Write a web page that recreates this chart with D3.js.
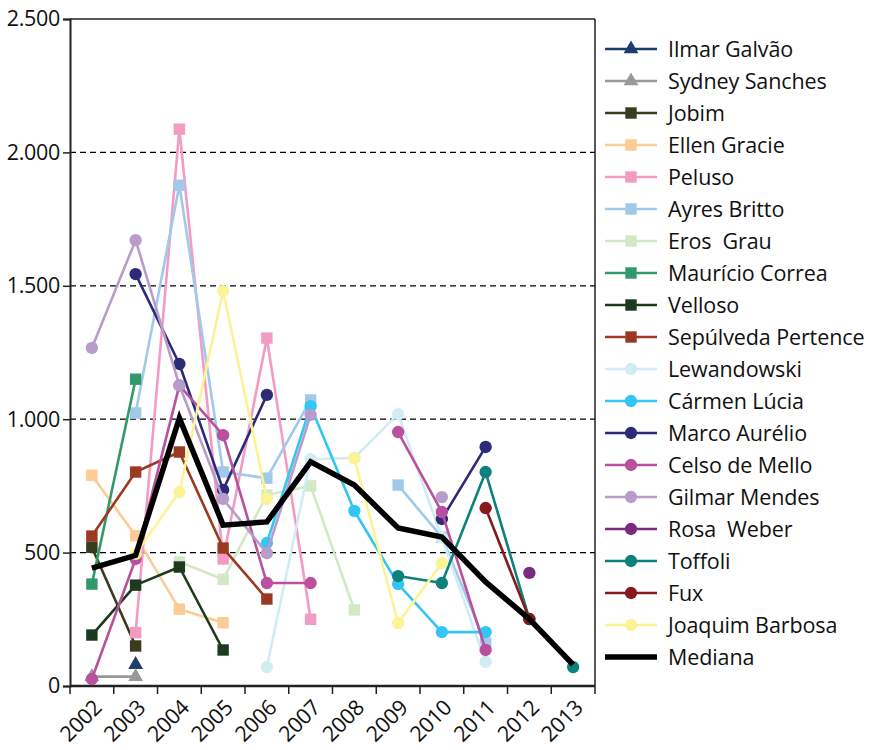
<!DOCTYPE html>
<html>
<head>
<meta charset="utf-8">
<script src="https://cdn.jsdelivr.net/npm/d3@7"></script>
<style>
  body { margin: 0; background: #fff; }
  text { font-family: "Open Sans", sans-serif; fill: #111; }
</style>
</head>
<body>
<div id="graph"></div>
<script>
'use strict';

const years = ['2002', '2003', '2004', '2005', '2006', '2007', '2008', '2009', '2010', '2011', '2012', '2013'];
const yTicks = [0, 500, 1000, 1500, 2000, 2500];

// one value per year, null = no point
const ilmarGalvao       = [null, 80, null, null, null, null, null, null, null, null, null, null];
const sydneySanches     = [35, 35, null, null, null, null, null, null, null, null, null, null];
const jobim             = [520, 150, null, null, null, null, null, null, null, null, null, null];
const ellenGracie       = [790, 563, 288, 237, null, null, null, null, null, null, null, null];
const peluso            = [null, 200, 2087, 476, 1304, 250, null, null, null, null, null, null];
const ayresBritto       = [null, 1023, 1877, 802, 779, 1072, null, 753, 558, 161, null, null];
const erosGrau          = [null, null, 465, 400, 716, 750, 285, null, null, null, null, null];
const mauricioCorrea    = [382, 1150, null, null, null, null, null, null, null, null, null, null];
const velloso           = [191, 378, 446, 135, null, null, null, null, null, null, null, null];
const sepulvedaPertence = [562, 802, 877, 517, 326, null, null, null, null, null, null, null];
const lewandowski       = [null, null, null, null, 71, 850, 855, 1019, 555, 90, null, null];
const carmenLucia       = [null, null, null, null, 536, 1049, 656, 382, 202, 202, null, null];
const marcoAurelio      = [null, 1544, 1207, 735, 1091, null, null, null, 626, 896, null, null];
const celsoDeMello      = [26, 476, 1127, 940, 386, 386, null, 952, 652, 135, null, null];
const gilmarMendes      = [1267, 1671, 1127, 701, 498, 1016, null, null, 708, null, null, null];
const rosaWeber         = [null, null, null, null, null, null, null, null, null, null, 424, null];
const toffoli           = [null, null, null, null, null, null, null, 412, 386, 802, 251, 71];
const fux               = [null, null, null, null, null, null, null, null, null, 667, 251, null];
const joaquimBarbosa    = [null, 495, 727, 1481, 701, null, 853, 236, 461, null, null, null];
const mediana           = [442, 490, 1004, 603, 615, 840, 753, 592, 558, 390, 251, 80];

const series = [
  { name: 'Ilmar Galvão', values: ilmarGalvao, color: '#1f3c6e', marker: 'triangle' },
  { name: 'Sydney Sanches', values: sydneySanches, color: '#999999', marker: 'triangle' },
  { name: 'Jobim', values: jobim, color: '#3a3a1c', marker: 'square' },
  { name: 'Ellen Gracie', values: ellenGracie, color: '#fdcb94', marker: 'square' },
  { name: 'Peluso', values: peluso, color: '#f39bc3', marker: 'square' },
  { name: 'Ayres Britto', values: ayresBritto, color: '#a1c9ea', marker: 'square' },
  { name: 'Eros  Grau', values: erosGrau, color: '#d3e9c6', marker: 'square' },
  { name: 'Maurício Correa', values: mauricioCorrea, color: '#33996a', marker: 'square' },
  { name: 'Velloso', values: velloso, color: '#1c3a1e', marker: 'square' },
  { name: 'Sepúlveda Pertence', values: sepulvedaPertence, color: '#9b3a22', marker: 'square' },
  { name: 'Lewandowski', values: lewandowski, color: '#d2ecf4', marker: 'circle' },
  { name: 'Cármen Lúcia', values: carmenLucia, color: '#34c6f2', marker: 'circle' },
  { name: 'Marco Aurélio', values: marcoAurelio, color: '#2b2b78', marker: 'circle' },
  { name: 'Celso de Mello', values: celsoDeMello, color: '#b9519e', marker: 'circle' },
  { name: 'Gilmar Mendes', values: gilmarMendes, color: '#b89dcb', marker: 'circle' },
  { name: 'Rosa  Weber', values: rosaWeber, color: '#7b2a80', marker: 'circle' },
  { name: 'Toffoli', values: toffoli, color: '#0d827c', marker: 'circle' },
  { name: 'Fux', values: fux, color: '#851a1e', marker: 'circle' },
  { name: 'Joaquim Barbosa', values: joaquimBarbosa, color: '#fcf396', marker: 'circle' },
];
const median = { name: 'Mediana', values: mediana, color: '#000000' };

const W = 873, H = 750;
const plot = { left: 70, right: 595, top: 19, bottom: 686 };

const svg = d3.select('#graph').append('svg')
  .attr('width', W)
  .attr('height', H);

const x = d3.scaleBand().domain(years).range([plot.left, plot.right]);
const cx = d => x(d) + x.bandwidth() / 2;
const y = d3.scaleLinear().domain([0, 2500]).range([plot.bottom, plot.top]);

const ptBR = d3.formatLocale({ decimal: ',', thousands: '.', grouping: [3], currency: ['R$', ''] });
const fmt = ptBR.format(',d');

// grid lines
svg.append('g')
  .selectAll('line')
  .data(yTicks.filter(t => t > 0 && t < 2500))
  .join('line')
  .attr('x1', plot.left).attr('x2', plot.right)
  .attr('y1', d => y(d)).attr('y2', d => y(d))
  .attr('stroke', '#000')
  .attr('stroke-width', 1.3)
  .attr('stroke-dasharray', '6,4');

// frame top / right
svg.append('line')
  .attr('x1', plot.left).attr('x2', plot.right)
  .attr('y1', y(2500)).attr('y2', y(2500))
  .attr('stroke', '#222').attr('stroke-width', 1.5);
svg.append('line')
  .attr('x1', plot.right).attr('x2', plot.right)
  .attr('y1', plot.top).attr('y2', plot.bottom)
  .attr('stroke', '#222').attr('stroke-width', 1.5);

// y axis
const yAxis = d3.axisLeft(y).tickValues(yTicks).tickFormat(fmt).tickSizeOuter(0).tickSize(7).tickPadding(3);
const gy = svg.append('g')
  .attr('transform', `translate(${plot.left},0)`)
  .call(yAxis);
gy.select('.domain').attr('stroke', '#222').attr('stroke-width', 2);
gy.selectAll('.tick line').attr('stroke', '#222').attr('stroke-width', 1.5);
gy.selectAll('.tick text')
  .style('font-family', '"Open Sans", sans-serif')
  .style('font-size', '21.5px')
  .style('letter-spacing', '-0.3px')
  .attr('fill', '#111');

// x axis: ticks at band edges, labels at centres
const gx = svg.append('g').attr('transform', `translate(0,${plot.bottom})`);
gx.append('line')
  .attr('x1', plot.left).attr('x2', plot.right)
  .attr('stroke', '#222').attr('stroke-width', 2.5);
const edges = years.map(d => x(d)).concat([plot.right]);
gx.selectAll('.edge')
  .data(edges)
  .join('line')
  .attr('class', 'edge')
  .attr('x1', d => d).attr('x2', d => d)
  .attr('y1', 0).attr('y2', 8)
  .attr('stroke', '#222').attr('stroke-width', 1.5);
gx.selectAll('.lbl')
  .data(years)
  .join('text')
  .attr('class', 'lbl')
  .attr('text-anchor', 'end')
  .attr('transform', d => `translate(${cx(d) + 11},${23}) rotate(-45)`)
  .style('font-size', '21.5px')
  .style('letter-spacing', '-0.3px')
  .text(d => d);

// series
const line = d3.line()
  .defined(d => d.v != null)
  .x(d => cx(d.year))
  .y(d => y(d.v));

const sym = {
  triangle: d3.symbol().type(d3.symbolTriangle).size(95),
  square: d3.symbol().type(d3.symbolSquare).size(130),
  circle: d3.symbol().type(d3.symbolCircle).size(120),
};

function drawSeries(s) {
  const pts = years.map((yr, i) => ({ year: yr, v: s.values[i] }));
  const g = svg.append('g');
  g.append('path')
    .datum(pts)
    .attr('d', line)
    .attr('fill', 'none')
    .attr('stroke', s.color)
    .attr('stroke-width', 2.6)
    .attr('stroke-linejoin', 'round');
  g.selectAll('path.mk')
    .data(pts.filter(p => p.v != null))
    .join('path')
    .attr('class', 'mk')
    .attr('transform', p => `translate(${cx(p.year)},${y(p.v)})`)
    .attr('d', sym[s.marker]())
    .attr('fill', s.color);
}
series.forEach(drawSeries);

svg.append('path')
  .datum(years.map((yr, i) => ({ year: yr, v: median.values[i] })))
  .attr('d', line)
  .attr('fill', 'none')
  .attr('stroke', median.color)
  .attr('stroke-width', 5.5)
  .attr('stroke-linejoin', 'miter');

// legend
const legend = svg.append('g').attr('transform', 'translate(605,49)');
const rows = legend.selectAll('g')
  .data(series.concat([median]))
  .join('g')
  .attr('transform', (d, i) => `translate(0,${i * 32})`);
rows.append('line')
  .attr('x1', 0).attr('x2', 52)
  .attr('stroke', d => d.color)
  .attr('stroke-width', d => d.marker ? 2.6 : 5.5);
rows.filter(d => d.marker)
  .append('path')
  .attr('transform', 'translate(26,0)')
  .attr('d', d => sym[d.marker]())
  .attr('fill', d => d.color);
rows.append('text')
  .attr('x', 63)
  .attr('dy', '0.35em')
  .style('font-size', '21.5px')
  .style('letter-spacing', '-0.1px')
  .style('white-space', 'pre')
  .text(d => d.name);
</script>
</body>
</html>
